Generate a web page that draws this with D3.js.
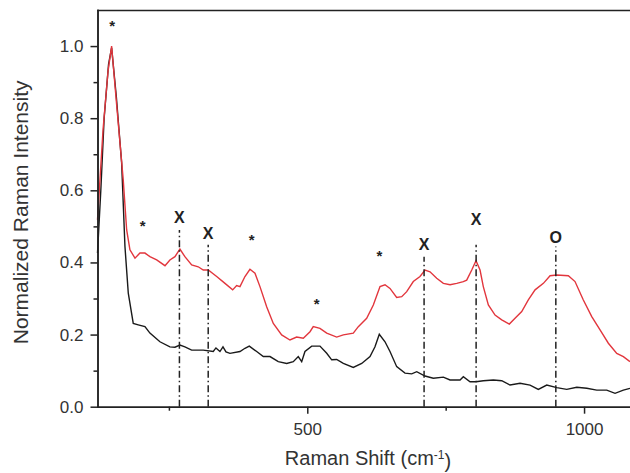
<!DOCTYPE html>
<html>
<head>
<meta charset="utf-8">
<script src="https://cdn.jsdelivr.net/npm/d3@7"></script>
<style>
    body { margin: 0; background: #fff; }
    svg { font-family: "Liberation Sans", Arial, sans-serif; }
    .axis text { font-size: 17px; fill: #333; }
    .axis path, .axis line { stroke: #222; stroke-width: 1.5; }
</style>
</head>
<body>
<div id="raman"></div>
<script>
// red spectrum (Raman shift in cm-1, normalized intensity)
var shiftRed = [121, 131, 140, 146.5, 156, 167.5, 173.7, 179.6, 188.7, 197.7, 206.7, 215.7, 227.9, 242.9, 251.8, 260.9,
    269.9, 278.9, 291.1, 303, 312.1, 321.1, 336.3, 351.3, 365.2, 372.4, 378.4, 387.4, 396.4, 405.5, 414.5, 426.6,
    438.6, 453.7, 468.7, 480.8, 492.8, 504.9, 510.8, 522.9, 535.1, 553.1, 565.1, 583.1, 592.2, 607.3, 619.3, 631.4,
    640.4, 649.4, 661.5, 670.6, 679.6, 691.5, 703.6, 712.7, 721.7, 733.8, 745.8, 757.9, 770, 781.9, 788, 797.1,
    804.8, 812.1, 818, 827.1, 839.2, 851.3, 865, 875.3, 887.4, 899.3, 911.5, 926.5, 938.6, 950.7, 971.6, 983.7,
    998.7, 1013.9, 1028.9, 1043.9, 1059.1, 1071, 1083];
var intensityRed = [0.518, 0.768, 0.93, 1.0, 0.83, 0.629, 0.49, 0.435, 0.412, 0.426, 0.426, 0.416, 0.407, 0.391, 0.407, 0.416,
    0.437, 0.416, 0.393, 0.388, 0.379, 0.379, 0.361, 0.342, 0.324, 0.336, 0.333, 0.361, 0.381, 0.37, 0.333, 0.277,
    0.231, 0.199, 0.185, 0.193, 0.19, 0.208, 0.222, 0.217, 0.204, 0.193, 0.199, 0.204, 0.222, 0.245, 0.282, 0.333,
    0.338, 0.328, 0.303, 0.305, 0.319, 0.347, 0.361, 0.379, 0.374, 0.356, 0.342, 0.338, 0.342, 0.347, 0.351, 0.379,
    0.405, 0.379, 0.333, 0.282, 0.254, 0.241, 0.229, 0.245, 0.264, 0.296, 0.324, 0.342, 0.363, 0.365, 0.363, 0.347,
    0.296, 0.25, 0.213, 0.176, 0.148, 0.139, 0.125];

// black spectrum
var shiftBlack = [121, 127, 133, 141, 146.5, 155, 164.6, 170.6, 176.6, 185.6, 194.6, 206.7, 215.7, 233.8, 251.8, 260.9,
    269.9, 278.9, 291.1, 312.1, 330.1, 335, 342.2, 347.7, 353.1, 360.3, 378.4, 387.4, 395.2, 408.6, 420.5, 432.6,
    447.6, 462.8, 474.7, 483.7, 489.9, 495.8, 508, 522.9, 535.1, 544.1, 553.1, 565.1, 583.1, 598.3, 613.3, 622.3,
    630.1, 640.4, 649.4, 661.5, 676.5, 688.7, 697.7, 712.7, 727.7, 745.8, 757.9, 776, 781.9, 794, 804.8, 818,
    836.1, 851.3, 866.3, 884.4, 902.4, 917.4, 932.6, 950.7, 968.7, 986.8, 1004.9, 1022.9, 1041, 1056, 1071, 1083];
var intensityBlack = [0.426, 0.6, 0.8, 0.95, 0.995, 0.86, 0.676, 0.444, 0.315, 0.231, 0.227, 0.222, 0.204, 0.18, 0.166, 0.165,
    0.171, 0.166, 0.157, 0.157, 0.153, 0.163, 0.153, 0.166, 0.152, 0.148, 0.153, 0.162, 0.168, 0.153, 0.139, 0.139,
    0.125, 0.12, 0.125, 0.139, 0.125, 0.153, 0.168, 0.168, 0.148, 0.13, 0.131, 0.12, 0.109, 0.12, 0.139, 0.166,
    0.201, 0.18, 0.153, 0.111, 0.093, 0.091, 0.097, 0.085, 0.079, 0.082, 0.074, 0.074, 0.083, 0.069, 0.069, 0.072,
    0.074, 0.072, 0.06, 0.065, 0.06, 0.048, 0.06, 0.053, 0.048, 0.054, 0.051, 0.046, 0.046, 0.037, 0.046, 0.051];

// dash-dot peak lines with their labels
var peakShift = [269, 321, 711, 805, 949];
var peakTop = [0.49, 0.449, 0.416, 0.449, 0.444];
var peakLabel = ["X", "X", "X", "X", "O"];
var peakLabelLevel = [0.526, 0.482, 0.451, 0.521, 0.471];

// asterisk marks
var starShift = [147.6, 202.6, 399.5, 517, 630.1];
var starLevel = [1.064, 0.51, 0.472, 0.294, 0.427];

var yTicks = [0, 0.2, 0.4, 0.6, 0.8, 1.0];
var yMinor = [0.1, 0.3, 0.5, 0.7, 0.9];
var xTicks = [500, 1000];
var xMinor = [250, 750];

var container = d3.select('#raman'),
    width = 630,
    height = 473,
    margin = {top: 10, right: 0, bottom: 66.3, left: 97.5};

var svg = container
    .append("svg")
    .attr("width", width)
    .attr("height", height)
    .append("g")
    .attr("transform", `translate(${margin.left},${margin.top})`);

var innerW = width - margin.left - margin.right,
    innerH = height - margin.top - margin.bottom;

var xScale = d3.scaleLinear().domain([121, 1083]).range([0, innerW]);
var yScale = d3.scaleLinear().domain([0, 1.1]).range([innerH, 0]);

var red = shiftRed.map((s, i) => ({shift: s, value: intensityRed[i]}));
var black = shiftBlack.map((s, i) => ({shift: s, value: intensityBlack[i]}));

var line = d3.line()
    .x(d => xScale(d.shift))
    .y(d => yScale(d.value));

svg.append("path")
    .datum(black)
    .attr("fill", "none")
    .attr("stroke", "#1a1a1a")
    .attr("stroke-width", 1.4)
    .attr("d", line);

svg.append("path")
    .datum(red)
    .attr("fill", "none")
    .attr("stroke", "#e2363d")
    .attr("stroke-width", 1.4)
    .attr("d", line);

/* peak lines */
var peaks = peakShift.map((s, i) => ({shift: s, top: peakTop[i], label: peakLabel[i], level: peakLabelLevel[i]}));

svg.selectAll(".peak")
    .data(peaks)
    .enter().append("line")
    .attr("class", "peak")
    .attr("x1", d => xScale(d.shift))
    .attr("x2", d => xScale(d.shift))
    .attr("y1", yScale(0))
    .attr("y2", d => yScale(d.top))
    .attr("stroke", "#222")
    .attr("stroke-width", 1.5)
    .attr("stroke-dasharray", "7,3,1.5,3");

svg.selectAll(".peak-label")
    .data(peaks)
    .enter().append("text")
    .attr("class", "peak-label")
    .attr("x", d => xScale(d.shift))
    .attr("y", d => yScale(d.level))
    .attr("dy", "0.36em")
    .attr("text-anchor", "middle")
    .style("font-size", "16px")
    .style("font-weight", "bold")
    .style("fill", "#222")
    .text(d => d.label);

svg.selectAll(".star")
    .data(starShift.map((s, i) => ({shift: s, level: starLevel[i]})))
    .enter().append("text")
    .attr("class", "star")
    .attr("x", d => xScale(d.shift))
    .attr("y", d => yScale(d.level))
    .attr("dy", "0.55em")
    .attr("text-anchor", "middle")
    .style("font-size", "15px")
    .style("font-weight", "bold")
    .style("fill", "#222")
    .text("*");

// Add the X Axis
svg.append("g")
    .attr("class", "x axis")
    .attr("transform", `translate(0,${innerH})`)
    .call(d3.axisBottom(xScale).tickValues(xTicks).tickSize(7).tickSizeOuter(0).tickPadding(9.5)
        .tickFormat(d3.format("d")));

svg.append("g")
    .attr("class", "x axis minor")
    .attr("transform", `translate(0,${innerH})`)
    .call(d3.axisBottom(xScale).tickValues(xMinor).tickSize(4).tickSizeOuter(0).tickFormat(""));

// top frame
svg.append("g")
    .attr("class", "axis")
    .call(d3.axisTop(xScale).tickValues([]).tickSizeOuter(0));

// Add the Y Axis
svg.append("g")
    .attr("class", "y axis")
    .call(d3.axisLeft(yScale).tickValues(yTicks).tickSize(7).tickSizeOuter(0).tickPadding(7)
        .tickFormat(d3.format(".1f")));

svg.append("g")
    .attr("class", "y axis minor")
    .call(d3.axisLeft(yScale).tickValues(yMinor).tickSize(4).tickSizeOuter(0).tickFormat(""));

svg.selectAll(".axis .domain").attr("stroke-linecap", "square");

// axis titles
svg.append("text")
    .attr("transform", `translate(${-69.5},${innerH / 2 + 4}) rotate(-90)`)
    .attr("text-anchor", "middle")
    .style("font-size", "21px")
    .style("fill", "#333")
    .text("Normalized Raman Intensity");

var xTitle = svg.append("text")
    .attr("x", 368 - margin.left)
    .attr("y", innerH + 58)
    .attr("text-anchor", "middle")
    .style("font-size", "20px")
    .style("fill", "#333");
xTitle.append("tspan").text("Raman Shift (cm");
xTitle.append("tspan").attr("dy", "-0.45em").style("font-size", "12px").text("-1");
xTitle.append("tspan").attr("dy", "0.45em").text(")");
</script>
</body>
</html>
